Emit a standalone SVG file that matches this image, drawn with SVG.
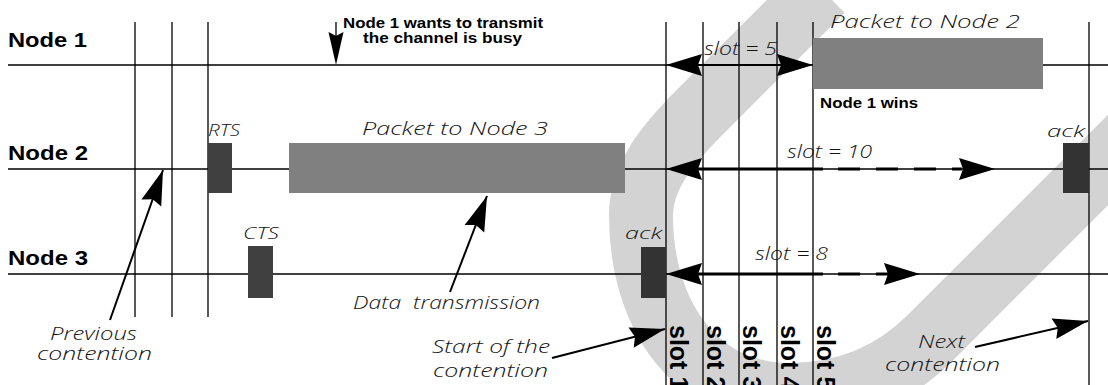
<svg xmlns="http://www.w3.org/2000/svg" xmlns:xlink="http://www.w3.org/1999/xlink" width="1108" height="385" viewBox="0 0 1108 385">
  <defs>
    <style>
      .ln { stroke: #000; stroke-width: 1.4; fill: none; }
      .vl { stroke: #000; stroke-width: 1.3; fill: none; }
      .lead { stroke: #000; stroke-width: 2; fill: none; }
      .sl { stroke: #000; stroke-width: 3; fill: none; }
      .dash { stroke: #000; stroke-width: 3; fill: none; stroke-dasharray: 22 16; }
      .pkt { fill: #808080; }
      .ctl { fill: #404040; }
      .ack { fill: #333333; }
      .it { font-family: "Open Sans", "DejaVu Sans", "Liberation Sans", sans-serif; font-style: italic; font-weight: 300; font-size: 18px; fill: #111; }
      .sm { font-size: 16px; }
      .bd { font-family: "Liberation Sans", Arial, sans-serif; font-weight: bold; fill: #000; }
      .band { stroke: #d3d3d3; stroke-width: 64; fill: none; }
    </style>
    <!-- filled arrowhead, tip at origin, pointing +x -->
    <path id="hd" d="M0,0 L-36,-11 L-32,0 L-36,11 Z" fill="#000"/>
    <marker id="ah" markerUnits="userSpaceOnUse" orient="auto" viewBox="-38 -12 40 24" refX="0" refY="0" markerWidth="40" markerHeight="24">
      <path d="M0,0 L-35,-10.5 L-31,0 L-35,10.5 Z" fill="#000"/>
    </marker>
  </defs>

  <rect width="1108" height="385" fill="#fff"/>

  <!-- light grey loop in the background -->
  <g id="backdrop">
    <path class="band" d="M 822,-10 L 700,112 C 670,142 641,175 641,215 C 641,320 700,395 790,395 C 850,395 895,373 930,338 L 1240,28"/>
  </g>

  <!-- contention boundaries and slot lines -->
  <g id="grid">
    <line class="vl" x1="135" y1="22" x2="135" y2="317"/>
    <line class="vl" x1="172" y1="22" x2="172" y2="317"/>
    <line class="vl" x1="208" y1="22" x2="208" y2="317"/>
    <line class="vl" x1="666" y1="22" x2="666" y2="385"/>
    <line class="vl" x1="703" y1="22" x2="703" y2="385"/>
    <line class="vl" x1="739" y1="22" x2="739" y2="385"/>
    <line class="vl" x1="777" y1="22" x2="777" y2="385"/>
    <line class="vl" x1="813" y1="22" x2="813" y2="385"/>
    <line class="vl" x1="1089" y1="22" x2="1089" y2="385"/>
  </g>

  <g id="node1">
    <text class="bd" x="8" y="47" font-size="20" textLength="79" lengthAdjust="spacingAndGlyphs">Node 1</text>
    <line class="ln" x1="8" y1="65" x2="1108" y2="65"/>
    <rect class="pkt" x="813" y="38" width="230" height="51"/>
    <text class="it" x="830" y="28" textLength="190" lengthAdjust="spacingAndGlyphs">Packet to Node 2</text>
    <text class="bd" x="820" y="108" font-size="15" textLength="98" lengthAdjust="spacingAndGlyphs">Node 1 wins</text>
  </g>

  <g id="node2">
    <text class="bd" x="8" y="160" font-size="20" textLength="80" lengthAdjust="spacingAndGlyphs">Node 2</text>
    <line class="ln" x1="8" y1="169" x2="1108" y2="169"/>
    <rect class="ctl" x="208" y="143" width="24" height="50"/>
    <text class="it sm" x="208" y="136" textLength="32" lengthAdjust="spacingAndGlyphs">RTS</text>
    <rect class="pkt" x="289" y="143" width="336" height="50"/>
    <text class="it" x="362" y="135" textLength="186" lengthAdjust="spacingAndGlyphs">Packet to Node 3</text>
    <rect class="ack" x="1063" y="143" width="26" height="50"/>
    <text class="it sm" x="1047" y="137" textLength="38" lengthAdjust="spacingAndGlyphs">ack</text>
  </g>

  <g id="node3">
    <text class="bd" x="8" y="265" font-size="20" textLength="80" lengthAdjust="spacingAndGlyphs">Node 3</text>
    <line class="ln" x1="8" y1="274" x2="1108" y2="274"/>
    <rect class="ctl" x="248" y="246" width="25" height="52"/>
    <text class="it sm" x="243" y="239" textLength="36" lengthAdjust="spacingAndGlyphs">CTS</text>
    <rect class="ack" x="641" y="247" width="25" height="51"/>
    <text class="it sm" x="625" y="239" textLength="37" lengthAdjust="spacingAndGlyphs">ack</text>
  </g>

  <g id="connectors">
    <!-- Node 1 wants to transmit -->
    <line class="vl" x1="336" y1="22" x2="336" y2="40"/>
    <path d="M336,65 L328.5,32 L336,36 L343.5,32 Z" fill="#000"/>
    <!-- slot = 5 -->
    <line class="lead" x1="698" y1="65" x2="782" y2="65" stroke-width="2.5"/>
    <use xlink:href="#hd" transform="translate(666,65) rotate(180)"/>
    <use xlink:href="#hd" transform="translate(813,65)"/>
    <!-- slot = 10 -->
    <line class="sl" x1="698" y1="169" x2="823" y2="169"/>
    <line class="dash" x1="838" y1="169" x2="962" y2="169"/>
    <use xlink:href="#hd" transform="translate(666,169) rotate(180)"/>
    <use xlink:href="#hd" transform="translate(995,169)"/>
    <!-- slot = 8 -->
    <line class="sl" x1="698" y1="274" x2="823" y2="274"/>
    <line class="dash" x1="838" y1="274" x2="888" y2="274"/>
    <use xlink:href="#hd" transform="translate(666,274) rotate(180)"/>
    <use xlink:href="#hd" transform="translate(920,274)"/>
    <!-- leaders -->
    <line class="lead" x1="110" y1="320" x2="163" y2="170" marker-end="url(#ah)"/>
    <line class="lead" x1="450" y1="292" x2="487" y2="196" marker-end="url(#ah)"/>
    <line class="lead" x1="552" y1="358" x2="665" y2="329" marker-end="url(#ah)"/>
    <line class="lead" x1="975" y1="347" x2="1088" y2="321" marker-end="url(#ah)"/>
  </g>

  <g id="annotations">
    <text class="bd" x="343" y="28" font-size="15" textLength="200" lengthAdjust="spacingAndGlyphs">Node 1 wants to transmit</text>
    <text class="bd" x="363" y="43" font-size="15" textLength="159" lengthAdjust="spacingAndGlyphs">the channel is busy</text>
    <text class="it" x="704" y="55" textLength="73" lengthAdjust="spacingAndGlyphs">slot = 5</text>
    <text class="it" x="787" y="158" textLength="85" lengthAdjust="spacingAndGlyphs">slot = 10</text>
    <text class="it" x="755" y="260" textLength="73" lengthAdjust="spacingAndGlyphs">slot = 8</text>
    <text class="it" x="50" y="340" textLength="87" lengthAdjust="spacingAndGlyphs">Previous</text>
    <text class="it" x="37" y="360" textLength="115" lengthAdjust="spacingAndGlyphs">contention</text>
    <text class="it" x="353" y="309" textLength="187" lengthAdjust="spacingAndGlyphs" style="white-space:pre">Data  transmission</text>
    <text class="it" x="432" y="353" textLength="118" lengthAdjust="spacingAndGlyphs">Start of the</text>
    <text class="it" x="433" y="377" textLength="115" lengthAdjust="spacingAndGlyphs">contention</text>
    <text class="it" x="918" y="348" textLength="47" lengthAdjust="spacingAndGlyphs">Next</text>
    <text class="it" x="885" y="371" textLength="115" lengthAdjust="spacingAndGlyphs">contention</text>
  </g>

  <g id="slot-labels" class="bd" font-size="25">
    <text transform="translate(670,325) rotate(90)">slot 1</text>
    <text transform="translate(707,325) rotate(90)">slot 2</text>
    <text transform="translate(743,325) rotate(90)">slot 3</text>
    <text transform="translate(781,325) rotate(90)">slot 4</text>
    <text transform="translate(817,325) rotate(90)">slot 5</text>
  </g>
</svg>
